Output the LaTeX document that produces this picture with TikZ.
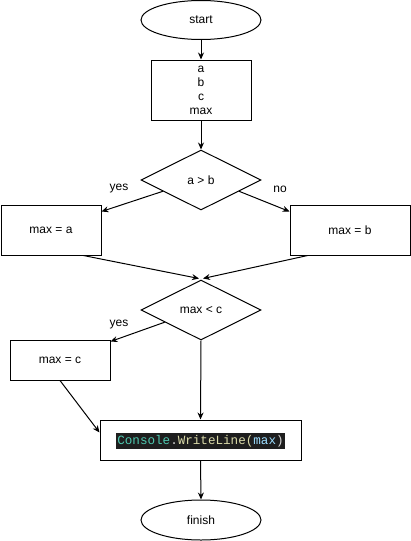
\documentclass[tikz,border=0pt]{standalone}
\usepackage{fontspec}
\setmainfont{Liberation Sans}
\newfontfamily\codefont{Liberation Mono}
\usetikzlibrary{shapes.geometric,arrows.meta,calc}
\definecolor{codebg}{HTML}{1E1E1E}
\definecolor{codeteal}{HTML}{4EC9B0}
\definecolor{codeyel}{HTML}{DCDCAA}
\definecolor{codeblue}{HTML}{9CDCFE}
\definecolor{codewhite}{HTML}{D4D4D4}
\begin{document}
\begin{tikzpicture}[x=1pt,y=-1pt,
  every node/.style={font=\fontsize{12}{14}\selectfont},
  box/.style={draw,line width=1pt,rectangle,inner sep=0pt,align=center},
  term/.style={draw,line width=1pt,ellipse,inner sep=0pt,minimum width=120pt,minimum height=39pt},
  dec/.style={draw,line width=1pt,diamond,aspect=2,inner sep=0pt,minimum width=120pt,minimum height=60pt},
  flow/.style={line width=1pt,-{Stealth[length=7pt,width=6pt]}},
  plain/.style={line width=1pt}]
\useasboundingbox (0,0) rectangle (411,541);
\node[term] (start) at (201,20) {start};
\node[box,minimum width=100pt,minimum height=60pt,font=\fontsize{12}{14}\selectfont] (vars) at (201,90) {a\\b\\c\\max};
\node[dec] (d1) at (201,180) {a > b};
\node[box,minimum width=100pt,minimum height=50pt] (ma) at (51,230) {max = a};
\node[box,minimum width=120pt,minimum height=50pt] (mb) at (350,230) {max = b};
\node[dec] (d2) at (201,310) {max < c};
\node[box,minimum width=100pt,minimum height=40pt] (mc) at (60,360) {max = c};
\node[box,minimum width=201pt,minimum height=40pt] (console) at (200.5,440) {};
\node[fill=codebg,inner xsep=1.5pt,inner ysep=2pt,font=\codefont\fontsize{12.6}{14}\selectfont] (code) at (200.5,441)
  {\textcolor{codeteal}{Console}\textcolor{codewhite}{.}\textcolor{codeyel}{WriteLine}\textcolor{codeyel}{(}\textcolor{codeblue}{max}\textcolor{codewhite}{)}};
\node[term,minimum height=40pt] (finish) at (201,520) {finish};
\node (yes1) at (119,189) {yes};
\node (no1) at (280,189) {no};
\node (yes2) at (119,325) {yes};
\coordinate (meet) at (201,280);
\draw[flow] (start.south) -- (vars.north);
\draw[flow] (vars.south) -- (d1.north);
\draw[flow] ($(d1.west)!0.37!(d1.south)$) -- ($(ma.north east)+(0,7)$);
\draw[flow] ($(d1.east)!0.37!(d1.south)$) -- ($(mb.north west)+(0,7)$);
\draw[flow] ($(ma.south west)!0.82!(ma.south east)$) -- ($(d2.north)+(-2,-1)$);
\draw[flow] ($(mb.south west)!0.15!(mb.south east)$) -- ($(d2.north)+(2,-1)$);
\draw[flow] ($(d2.west)!0.4!(d2.south)$) -- ($(mc.north east)+(0,2)$);
\draw[flow] (d2.south) -- (console.north);
\draw[flow] (mc.south) -- ($(console.north west)+(0,13)$);
\draw[flow] (console.south) -- (finish.north);
\end{tikzpicture}
\end{document}
